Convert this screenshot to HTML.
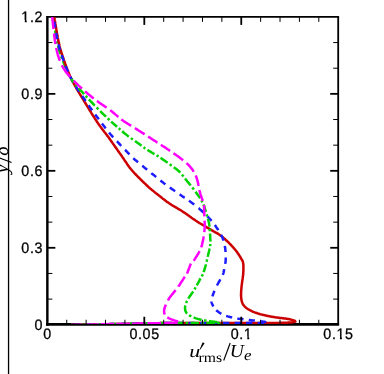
<!DOCTYPE html><html><head><meta charset="utf-8"><style>html,body{margin:0;padding:0;background:#fff}svg{display:block;will-change:transform}text{font-family:"Liberation Sans",sans-serif;text-rendering:geometricPrecision}</style></head><body>
<svg width="384" height="374" viewBox="0 0 384 374">
<rect width="384" height="374" fill="#fff"/>
<line x1="8.55" y1="0" x2="8.55" y2="374" stroke="#000" stroke-width="1.3"/>
<g transform="translate(8,173.2) rotate(-90)"><text x="0" y="0" font-size="20" style="font-family:'Liberation Serif',serif;font-style:italic">y</text><text x="17.5" y="0" font-size="20" style="font-family:'Liberation Serif',serif;font-style:italic">δ</text></g>
<line x1="-1" y1="157.75" x2="11.6" y2="162.45" stroke="#000" stroke-width="1.1"/>
<rect x="46.2" y="16.0" width="8.3" height="0.8" fill="#000"/>
<g stroke="#000" fill="none">
<line x1="47.35" y1="16.00" x2="47.35" y2="325.70" stroke-width="2.45"/>
<line x1="46.13" y1="324.40" x2="339.10" y2="324.40" stroke-width="2.6"/>
<line x1="47.35" y1="16.90" x2="339.10" y2="16.90" stroke-width="1.8"/>
<line x1="338.20" y1="16.90" x2="338.20" y2="325.00" stroke-width="1.8"/>
</g>
<defs><clipPath id="c"><rect x="47.35" y="16.90" width="290.85" height="307.10"/></clipPath><clipPath id="ctop"><rect x="0" y="0" width="384" height="79"/></clipPath><clipPath id="cbot"><rect x="0" y="79" width="384" height="300"/></clipPath></defs>
<g clip-path="url(#c)" fill="none" stroke-width="2.5" stroke-linejoin="round">
<g clip-path="url(#ctop)"><path d="M52.7 15.0 L52.6 14.6 L52.7 15.1 L53.0 17.2 L53.1 17.7 L53.2 18.2 L53.3 18.8 L53.4 19.4 L53.5 20.1 L53.6 20.8 L53.7 21.6 L53.8 22.3 L53.9 23.1 L54.1 24.0 L54.2 24.8 L54.3 25.7 L54.5 26.6 L54.6 27.5 L54.7 28.4 L54.9 29.3 L55.0 30.2 L55.2 31.2 L55.3 32.1 L55.5 33.0 L55.6 33.9 L55.8 34.8 L55.9 35.7 L56.1 36.6 L56.2 37.4 L56.4 38.2 L56.5 39.0 L56.7 39.8 L56.8 40.5 L57.0 41.2 L57.2 42.1 L57.3 43.0 L57.5 43.9 L57.7 44.7 L57.9 45.5 L58.1 46.3 L58.3 47.0 L58.5 47.8 L58.7 48.5 L58.9 49.2 L59.1 49.9 L59.3 50.6 L59.5 51.3 L59.7 52.0 L59.9 52.7 L60.2 53.5 L60.4 54.2 L60.7 55.0 L61.0 55.7 L61.2 56.5 L61.6 57.4 L61.9 58.2 L62.1 58.8 L62.4 59.5 L62.6 60.2 L62.9 60.9 L63.2 61.6 L63.5 62.4 L63.8 63.1 L64.1 63.8 L64.4 64.6 L64.7 65.4 L65.0 66.1 L65.3 66.9 L65.7 67.6 L66.0 68.4 L66.3 69.2 L66.7 69.9 L67.0 70.7 L67.4 71.5 L67.7 72.2 L68.1 73.0 L68.5 73.7 L68.8 74.5 L69.2 75.2 L69.6 75.9 L70.0 76.6 L70.4 77.3 L70.8 78.0 L71.2 78.6 L71.6 79.3 L72.1 80.0 L72.5 80.7 L73.0 81.4 L73.5 82.0 L74.0 82.7 L74.5 83.3 L75.0 84.0 L75.5 84.6 L76.1 85.2 L76.6 85.9 L77.1 86.5 L77.7 87.1 L78.2 87.7 L78.8 88.3 L79.3 88.9 L79.8 89.5 L80.4 90.1 L80.9 90.7 L81.5 91.2 L82.0 91.8 L82.5 92.4 L83.1 93.0 L83.6 93.5 L84.1 94.1 L84.6 94.6 L85.1 95.2 L85.7 95.9 L86.3 96.5 L86.8 97.1 L87.4 97.8 L87.9 98.4 L88.5 99.0 L89.1 99.6 L89.6 100.2 L90.2 100.8 L90.7 101.4 L91.3 101.9 L91.8 102.5 L92.4 103.1 L92.9 103.7 L93.5 104.2 L94.0 104.8 L94.5 105.4 L95.1 105.9 L95.6 106.5 L96.2 107.1 L96.7 107.6 L97.3 108.2 L97.8 108.7 L98.4 109.3 L99.0 109.9 L99.6 110.5 L100.2 111.1 L100.8 111.7 L101.4 112.3 L102.0 112.9 L102.6 113.5 L103.2 114.1 L103.8 114.6 L104.4 115.2 L105.0 115.8 L105.6 116.3 L106.2 116.9 L106.7 117.4 L107.3 118.0 L107.9 118.5 L108.4 119.0 L109.0 119.6 L109.5 120.1 L110.0 120.6 L110.6 121.1 L111.3 121.8 L112.0 122.4 L112.7 123.0 L113.4 123.6 L114.0 124.2 L114.7 124.7 L115.3 125.3 L115.9 125.8 L116.5 126.3 L117.1 126.9 L117.7 127.3 L118.3 127.8 L118.8 128.3 L119.3 128.7 L119.8 129.2 L120.4 129.7 L121.2 130.4 L121.9 131.0 L122.5 131.5 L123.1 132.0 L123.6 132.5 L124.2 133.0 L124.7 133.4 L125.3 133.9 L126.0 134.4 L126.6 134.9 L127.2 135.4 L127.8 135.9 L128.5 136.4 L129.2 136.9 L129.8 137.3 L130.5 137.8 L131.1 138.3 L131.8 138.8 L132.4 139.2 L133.1 139.7 L133.8 140.2 L134.4 140.6 L135.1 141.1 L135.7 141.5 L136.4 142.0 L137.1 142.5 L137.7 142.9 L138.4 143.4 L139.0 143.9 L139.7 144.3 L140.3 144.8 L140.9 145.3 L141.6 145.8 L142.2 146.3 L142.9 146.8 L143.5 147.2 L144.2 147.7 L144.9 148.2 L145.5 148.6 L146.2 149.1 L146.9 149.5 L147.5 149.9 L148.2 150.3 L148.9 150.8 L149.6 151.2 L150.3 151.6 L151.0 152.0 L151.7 152.5 L152.4 152.9 L153.0 153.3 L153.6 153.6 L154.1 153.9 L154.7 154.2 L155.2 154.5 L155.8 154.9 L156.5 155.2 L157.2 155.7 L157.9 156.1 L158.8 156.7 L159.8 157.3 L160.5 157.9 L161.1 158.2 L161.6 158.6 L162.2 159.0 L162.8 159.4 L163.5 159.9 L164.1 160.3 L164.8 160.8 L165.5 161.3 L166.2 161.8 L167.0 162.3 L167.7 162.8 L168.4 163.3 L169.2 163.8 L169.9 164.4 L170.7 164.9 L171.4 165.4 L172.1 165.9 L172.8 166.4 L173.5 167.0 L174.2 167.5 L174.8 168.0 L175.5 168.4 L176.1 168.9 L176.6 169.4 L177.2 169.8 L177.7 170.2 L178.4 170.8 L179.2 171.5 L179.9 172.2 L180.4 172.8 L181.0 173.3 L181.5 173.9 L181.9 174.4 L182.3 175.0 L182.7 175.5 L183.2 176.1 L183.6 176.7 L184.0 177.3 L184.5 177.9 L185.1 178.6 L185.6 179.3 L186.1 179.8 L186.6 180.4 L187.0 181.0 L187.5 181.6 L188.1 182.2 L188.6 182.9 L189.1 183.5 L189.6 184.2 L190.2 184.8 L190.7 185.5 L191.2 186.1 L191.7 186.8 L192.3 187.5 L192.8 188.1 L193.3 188.8 L193.8 189.4 L194.3 190.1 L194.7 190.7 L195.2 191.3 L195.7 192.0 L196.2 192.7 L196.7 193.4 L197.2 194.0 L197.7 194.7 L198.2 195.4 L198.6 196.0 L199.1 196.7 L199.5 197.3 L200.0 198.0 L200.4 198.6 L200.8 199.3 L201.2 200.0 L201.6 200.6 L202.0 201.3 L202.3 202.0 L202.7 202.7 L203.0 203.4 L203.4 204.2 L203.7 205.0 L204.0 205.7 L204.3 206.5 L204.5 207.3 L204.8 208.1 L205.0 208.9 L205.3 209.7 L205.5 210.5 L205.7 211.3 L206.0 212.1 L206.2 212.8 L206.4 213.6 L206.6 214.3 L206.8 215.0 L207.1 215.9 L207.3 216.7 L207.5 217.5 L207.8 218.2 L208.0 219.0 L208.2 219.8 L208.4 220.5 L208.6 221.2 L208.7 222.0 L208.9 222.8 L209.1 223.6 L209.2 224.4 L209.3 225.2 L209.4 226.0 L209.5 226.8 L209.6 227.6 L209.7 228.4 L209.8 229.3 L209.8 230.1 L209.9 231.0 L210.0 231.8 L210.0 232.6 L210.1 233.5 L210.1 234.3 L210.1 235.1 L210.2 235.8 L210.2 236.5 L210.2 237.4 L210.3 238.3 L210.3 239.1 L210.4 239.8 L210.4 240.6 L210.4 241.3 L210.4 242.0 L210.4 242.8 L210.3 243.6 L210.3 244.5 L210.2 245.3 L210.0 246.1 L209.9 246.8 L209.8 247.6 L209.6 248.4 L209.4 249.2 L209.3 250.0 L209.1 250.8 L208.9 251.7 L208.7 252.5 L208.5 253.4 L208.3 254.2 L208.1 255.0 L207.9 255.8 L207.7 256.5 L207.6 257.3 L207.4 258.2 L207.2 259.0 L207.0 259.8 L206.8 260.7 L206.6 261.5 L206.4 262.3 L206.2 263.1 L206.0 263.8 L205.9 264.6 L205.7 265.3 L205.5 266.0 L205.3 266.7 L205.0 267.6 L204.8 268.5 L204.5 269.3 L204.3 270.2 L204.0 271.0 L203.7 271.7 L203.5 272.4 L203.3 273.1 L203.0 273.7 L202.7 274.5 L202.4 275.1 L202.2 275.5 L201.8 276.1 L201.2 277.1 L200.8 277.9 L200.5 278.4 L200.2 279.0 L199.8 279.6 L199.5 280.3 L199.1 281.1 L198.7 281.8 L198.3 282.6 L197.8 283.4 L197.4 284.2 L197.0 285.0 L196.5 285.8 L196.1 286.6 L195.7 287.3 L195.3 288.0 L194.9 288.7 L194.5 289.4 L194.1 290.1 L193.6 290.9 L193.1 291.6 L192.6 292.4 L192.1 293.1 L191.6 293.8 L191.1 294.4 L190.7 295.1 L190.2 295.7 L189.8 296.3 L189.4 296.9 L189.0 297.5 L188.6 298.1 L188.1 298.9 L187.7 299.7 L187.3 300.5 L186.9 301.3 L186.5 302.0 L186.2 302.7 L185.9 303.4 L185.6 304.1 L185.4 304.8 L185.3 305.6 L185.1 306.5 L185.1 307.3 L185.0 308.2 L185.1 309.0 L185.2 309.7 L185.3 310.5 L185.6 311.2 L185.9 311.9 L186.3 312.6 L186.7 313.2 L187.3 313.8 L187.9 314.4 L188.8 314.9 L189.4 315.4 L190.0 315.7 L190.7 316.0 L191.4 316.4 L192.1 316.7 L192.9 317.1 L193.7 317.4 L194.5 317.8 L195.3 318.1 L196.2 318.4 L197.0 318.6 L197.8 318.9 L198.6 319.1 L199.3 319.3 L200.1 319.5 L200.9 319.7 L201.7 319.9 L202.5 320.0 L203.3 320.2 L204.1 320.3 L205.0 320.4 L205.8 320.6 L206.6 320.7 L207.4 320.8 L208.2 321.0 L209.1 321.1 L210.0 321.2 L210.9 321.4 L211.8 321.5 L212.8 321.6 L213.7 321.7 L214.6 321.8 L215.4 321.9 L216.2 322.0 L216.9 322.1 L217.4 322.1 L217.9 322.2 L218.7 322.4 L219.6 322.7 L219.6 322.8 L218.8 322.8 L218.0 322.9 L217.2 322.9 L216.4 322.9 L215.6 322.9 L214.8 323.0 L214.0 323.0 L213.2 323.0 L212.4 323.0 L211.6 323.0 L210.8 323.0 L210.0 323.0 L209.2 323.0 L208.4 323.0 L207.6 323.0 L206.8 323.0 L206.0 323.0 L205.2 323.0 L204.4 323.0 L203.6 323.0 L202.8 323.0 L202.0 323.0 L201.2 323.0 L200.4 323.0 L199.6 323.0 L198.8 323.0 L198.0 323.0 L197.2 323.0 L196.4 323.0 L195.6 323.0 L194.8 323.0 L194.0 323.0 L193.2 323.0 L192.4 323.0 L191.6 323.0 L190.8 323.0 L190.0 323.0 L189.2 323.0 L188.4 323.0 L187.6 323.0 L186.8 323.0 L186.0 323.0 L185.2 323.0 L184.4 323.0 L183.6 323.0 L182.8 323.0 L182.0 323.0 L181.2 323.0 L180.4 323.0 L179.6 323.0 L178.8 323.0 L178.0 323.0 L177.2 323.0 L176.4 323.0 L175.6 323.0 L174.8 323.0 L174.0 323.0 L173.2 323.0 L172.4 323.0 L171.6 323.1 L170.8 323.1 L170.0 323.1 L169.2 323.1 L168.4 323.1 L167.6 323.1 L166.8 323.1 L166.0 323.1 L165.2 323.1 L164.4 323.1 L163.6 323.1 L162.8 323.1 L162.0 323.1 L161.2 323.1 L160.4 323.1 L159.6 323.2 L158.8 323.2 L158.0 323.2 L157.2 323.2 L156.4 323.2 L155.6 323.2 L154.8 323.2 L154.0 323.2 L153.2 323.2 L152.4 323.2 L151.6 323.2 L150.8 323.2 L150.0 323.2 L149.2 323.2 L148.4 323.2 L147.6 323.3 L146.8 323.3 L146.0 323.3 L145.2 323.3 L144.4 323.3 L143.6 323.4 L142.8 323.4 L142.0 323.4 L141.2 323.4 L140.4 323.4 L139.6 323.4 L138.8 323.5 L138.0 323.5 L137.2 323.5 L136.4 323.5 L135.6 323.5 L134.8 323.6 L134.0 323.6 L133.2 323.6 L132.4 323.6 L131.6 323.6 L130.8 323.7 L130.0 323.7 L129.2 323.7 L128.4 323.7 L127.6 323.7 L126.8 323.7 L126.0 323.8 L125.2 323.8 L124.4 323.8 L123.6 323.8 L122.8 323.8 L122.0 323.9 L121.2 323.9 L120.4 323.9 L119.6 323.9 L118.8 323.9 L118.0 324.0 L117.2 324.0 L116.4 324.0 L115.6 324.0 L114.8 324.0 L114.0 324.0 L113.2 324.1 L112.4 324.1 L111.6 324.1 L110.8 324.1 L110.0 324.1 L109.2 324.2 L108.4 324.2 L107.6 324.2 L106.8 324.2 L106.0 324.2 L105.2 324.3 L104.4 324.3 L103.6 324.3 L102.8 324.3 L102.0 324.3 L101.2 324.3 L100.4 324.4 L99.6 324.4 L98.8 324.4 L98.0 324.4 L97.2 324.4 L96.4 324.5 L95.6 324.5 L94.8 324.5 L94.0 324.5 L93.2 324.5 L92.4 324.5 L91.6 324.6 L90.8 324.6 L90.0 324.6 L89.2 324.6 L88.4 324.6 L87.6 324.7 L86.8 324.7 L86.0 324.7 L85.2 324.7 L84.4 324.7 L83.6 324.8 L82.8 324.8 L82.0 324.8 L81.2 324.8 L80.4 324.8 L79.6 324.8 L78.8 324.9 L78.0 324.9 L77.2 324.9 L76.4 324.9 L75.6 324.9 L74.8 325.0 L74.0 325.0 L73.2 325.0 L72.4 325.0 L71.6 325.0 L71.0 325.1" stroke="#00d200" stroke-dasharray="0.00 0.76 8.40 2.50 2.40 2.50 8.40 2.50 2.40 2.50 8.40 2.50 2.40 2.50 8.40 2.50 2.40 2.50 8.40 2.50 2.40 2.50 8.09 2.41 2.31 2.41 8.67 2.58 2.48 2.58 8.12 2.42 2.32 2.42 7.74 2.30 2.21 2.30 8.59 2.56 2.46 2.56 8.16 2.43 2.33 2.43 8.16 2.43 2.33 2.43 8.61 2.56 2.46 2.56 8.56 2.55 2.45 2.55 8.96 2.67 2.56 2.67 8.01 2.38 2.29 2.38 8.01 2.38 2.29 2.38 8.01 2.38 2.29 2.38 7.96 2.37 2.27 2.37 8.63 2.57 2.46 2.57 8.10 2.41 2.31 2.41 7.94 2.36 2.27 2.36 8.65 2.58 2.47 2.58 8.65 2.58 2.47 2.58 8.40 2.50 2.40 2.50 8.40 2.50 2.40 2.50 8.40 2.50 2.40 2.50 8.40 2.50 2.40 2.50 8.40 2.50 2.40 2.50 8.40 2.50 2.40 2.50 8.40 2.50 2.40 2.50 8.40 2.50 2.40 2.50 8.40 2.50 2.40 2.50 8.40 2.50 2.40 2.50 8.40 2.50 2.40 2.50 6.04 50.00"/></g>
<path d="M54.0 15.0 L53.9 14.6 L54.0 15.1 L54.3 17.2 L54.4 17.7 L54.5 18.2 L54.6 18.8 L54.7 19.5 L54.8 20.1 L54.9 20.8 L55.1 21.6 L55.2 22.4 L55.3 23.2 L55.4 24.0 L55.6 24.9 L55.7 25.8 L55.9 26.7 L56.0 27.6 L56.2 28.5 L56.3 29.4 L56.5 30.3 L56.6 31.3 L56.8 32.2 L56.9 33.1 L57.1 34.0 L57.3 34.9 L57.4 35.8 L57.6 36.7 L57.7 37.5 L57.9 38.3 L58.0 39.1 L58.2 39.8 L58.3 40.6 L58.5 41.2 L58.7 42.1 L58.9 43.1 L59.1 44.0 L59.2 44.8 L59.4 45.6 L59.6 46.3 L59.8 47.1 L60.0 47.8 L60.2 48.5 L60.4 49.2 L60.6 49.8 L60.8 50.5 L61.0 51.2 L61.2 51.9 L61.4 52.7 L61.7 53.4 L61.9 54.2 L62.2 55.0 L62.5 55.9 L62.8 56.8 L63.0 57.4 L63.2 58.1 L63.5 58.8 L63.7 59.5 L63.9 60.1 L64.2 60.9 L64.4 61.6 L64.7 62.3 L64.9 63.0 L65.2 63.8 L65.5 64.5 L65.7 65.3 L66.0 66.0 L66.3 66.8 L66.6 67.6 L66.9 68.3 L67.2 69.1 L67.5 69.9 L67.8 70.7 L68.1 71.5 L68.4 72.3 L68.7 73.1 L69.1 73.9 L69.4 74.6 L69.7 75.4 L70.1 76.2 L70.5 77.0 L70.8 77.8 L71.2 78.6 L71.5 79.3 L71.9 80.0 L72.2 80.7 L72.6 81.4 L73.0 82.0 L73.3 82.7 L73.7 83.4 L74.1 84.2 L74.5 84.9 L74.9 85.6 L75.3 86.3 L75.7 87.0 L76.1 87.7 L76.5 88.4 L76.9 89.2 L77.4 89.9 L77.8 90.6 L78.2 91.3 L78.6 92.0 L79.1 92.8 L79.5 93.5 L79.9 94.2 L80.4 94.9 L80.8 95.6 L81.2 96.3 L81.6 97.0 L82.1 97.7 L82.5 98.4 L82.9 99.1 L83.3 99.7 L83.7 100.4 L84.1 101.1 L84.5 101.7 L84.9 102.4 L85.3 103.1 L85.8 103.8 L86.2 104.6 L86.7 105.3 L87.1 106.0 L87.6 106.8 L88.0 107.5 L88.5 108.2 L88.9 109.0 L89.3 109.7 L89.8 110.4 L90.2 111.1 L90.7 111.8 L91.1 112.5 L91.5 113.2 L92.0 113.9 L92.4 114.6 L92.8 115.3 L93.2 116.0 L93.7 116.6 L94.1 117.3 L94.5 117.9 L94.9 118.6 L95.3 119.2 L95.7 119.8 L96.1 120.4 L96.5 121.0 L96.9 121.6 L97.3 122.2 L97.7 122.8 L98.2 123.6 L98.8 124.4 L99.4 125.2 L99.9 126.0 L100.5 126.7 L101.0 127.5 L101.6 128.2 L102.1 128.9 L102.6 129.6 L103.2 130.3 L103.7 131.0 L104.2 131.6 L104.6 132.2 L105.1 132.8 L105.6 133.4 L106.0 134.0 L106.4 134.5 L106.8 135.0 L107.1 135.5 L107.5 135.9 L108.0 136.6 L108.6 137.4 L108.7 137.5 L108.8 137.7 L109.4 138.5 L110.1 139.6 L110.4 140.0 L110.8 140.5 L111.1 141.0 L111.5 141.6 L111.9 142.1 L112.4 142.8 L112.8 143.4 L113.3 144.1 L113.8 144.7 L114.3 145.5 L114.8 146.2 L115.3 146.9 L115.8 147.6 L116.3 148.4 L116.9 149.1 L117.4 149.9 L117.9 150.7 L118.4 151.4 L119.0 152.1 L119.5 152.9 L120.0 153.6 L120.5 154.3 L121.0 155.0 L121.4 155.6 L121.9 156.3 L122.3 156.9 L122.7 157.5 L123.3 158.3 L123.8 159.0 L124.2 159.7 L124.7 160.4 L125.1 161.0 L125.6 161.7 L126.0 162.3 L126.4 162.9 L126.8 163.5 L127.2 164.2 L127.6 164.8 L128.0 165.4 L128.5 166.0 L128.9 166.6 L129.4 167.2 L129.9 167.9 L130.4 168.5 L131.0 169.2 L131.6 169.9 L132.1 170.6 L132.6 171.1 L133.1 171.6 L133.6 172.2 L134.1 172.8 L134.6 173.3 L135.2 173.9 L135.7 174.5 L136.3 175.1 L136.9 175.7 L137.5 176.3 L138.1 176.9 L138.7 177.5 L139.3 178.1 L139.9 178.7 L140.5 179.3 L141.1 179.9 L141.7 180.5 L142.3 181.1 L142.9 181.7 L143.5 182.3 L144.1 182.8 L144.7 183.4 L145.3 183.9 L145.8 184.5 L146.4 185.0 L146.9 185.5 L147.4 186.0 L148.0 186.5 L148.7 187.2 L149.4 187.8 L150.1 188.4 L150.8 188.9 L151.4 189.5 L152.1 190.1 L152.7 190.6 L153.4 191.1 L154.0 191.6 L154.6 192.1 L155.2 192.6 L155.8 193.1 L156.4 193.6 L157.0 194.0 L157.6 194.5 L158.2 194.9 L158.8 195.4 L159.3 195.8 L159.9 196.3 L160.5 196.7 L161.2 197.3 L161.9 197.9 L162.5 198.4 L163.2 198.9 L163.8 199.4 L164.4 199.8 L165.0 200.3 L165.6 200.8 L166.2 201.2 L166.8 201.7 L167.4 202.1 L168.1 202.6 L168.8 203.1 L169.5 203.5 L170.2 204.0 L170.8 204.4 L171.4 204.8 L172.1 205.2 L172.7 205.6 L173.4 206.0 L174.1 206.4 L174.8 206.8 L175.5 207.2 L176.2 207.6 L176.9 208.0 L177.6 208.4 L178.3 208.9 L179.0 209.3 L179.7 209.7 L180.5 210.1 L181.2 210.6 L181.9 211.0 L182.6 211.5 L183.2 211.9 L183.9 212.4 L184.6 212.8 L185.3 213.3 L186.0 213.8 L186.7 214.3 L187.4 214.8 L188.1 215.3 L188.8 215.8 L189.5 216.3 L190.2 216.7 L190.9 217.2 L191.5 217.7 L192.2 218.2 L192.9 218.7 L193.5 219.1 L194.1 219.5 L194.7 219.9 L195.3 220.3 L195.9 220.7 L196.7 221.2 L197.5 221.8 L198.2 222.2 L199.0 222.7 L199.6 223.1 L200.3 223.5 L200.9 223.8 L201.6 224.2 L202.2 224.6 L202.8 224.9 L203.5 225.3 L204.1 225.7 L204.8 226.1 L205.5 226.5 L206.2 226.9 L206.9 227.4 L207.6 227.8 L208.3 228.2 L209.0 228.6 L209.7 229.0 L210.4 229.4 L211.1 229.9 L211.8 230.3 L212.5 230.7 L213.2 231.1 L213.9 231.5 L214.6 231.9 L215.3 232.3 L216.0 232.7 L216.7 233.0 L217.4 233.4 L218.1 233.8 L218.8 234.3 L219.4 234.7 L220.1 235.2 L220.8 235.7 L221.5 236.1 L222.1 236.6 L222.7 237.1 L223.3 237.7 L223.9 238.2 L224.6 238.8 L225.2 239.3 L225.8 239.9 L226.4 240.5 L227.0 241.0 L227.6 241.6 L228.2 242.2 L228.7 242.7 L229.3 243.3 L229.9 243.9 L230.5 244.5 L231.1 245.1 L231.6 245.7 L232.2 246.3 L232.7 246.9 L233.3 247.5 L233.8 248.1 L234.3 248.7 L234.8 249.3 L235.3 249.9 L235.8 250.5 L236.3 251.1 L236.8 251.8 L237.3 252.5 L237.8 253.2 L238.3 253.9 L238.7 254.6 L239.2 255.3 L239.6 256.0 L240.0 256.6 L240.4 257.3 L240.8 257.9 L241.1 258.5 L241.6 259.3 L242.0 260.0 L242.4 260.5 L242.7 261.2 L242.9 261.9 L243.1 262.8 L243.2 263.6 L243.3 264.3 L243.4 265.0 L243.4 265.7 L243.4 266.5 L243.4 267.3 L243.4 268.1 L243.4 269.0 L243.4 269.9 L243.4 270.8 L243.3 271.7 L243.3 272.6 L243.2 273.5 L243.2 274.3 L243.1 275.0 L243.0 275.8 L242.9 276.6 L242.8 277.4 L242.7 278.2 L242.6 279.0 L242.4 279.9 L242.3 280.7 L242.2 281.5 L242.1 282.3 L242.0 283.1 L241.9 283.9 L241.8 284.7 L241.7 285.5 L241.6 286.2 L241.5 287.1 L241.4 288.0 L241.4 288.8 L241.3 289.7 L241.2 290.5 L241.2 291.4 L241.1 292.2 L241.1 293.0 L241.1 293.7 L241.0 294.5 L241.1 295.2 L241.1 295.9 L241.1 296.8 L241.2 297.7 L241.3 298.5 L241.4 299.4 L241.5 300.2 L241.7 300.9 L241.9 301.7 L242.1 302.4 L242.4 303.1 L242.7 303.8 L243.1 304.5 L243.5 305.1 L244.0 305.7 L244.5 306.3 L245.0 306.9 L245.6 307.4 L246.3 308.0 L247.1 308.5 L247.8 309.0 L248.4 309.3 L249.0 309.7 L249.6 310.0 L250.3 310.4 L251.0 310.7 L251.7 311.1 L252.4 311.4 L253.2 311.8 L254.0 312.1 L254.8 312.4 L255.7 312.7 L256.6 313.0 L257.5 313.3 L258.2 313.6 L258.9 313.8 L259.6 314.0 L260.3 314.2 L261.1 314.4 L261.8 314.6 L262.6 314.8 L263.4 315.0 L264.2 315.1 L265.0 315.3 L265.9 315.5 L266.7 315.7 L267.5 315.9 L268.3 316.0 L269.2 316.2 L270.0 316.4 L270.8 316.5 L271.6 316.7 L272.4 316.8 L273.2 317.0 L274.0 317.1 L274.8 317.2 L275.7 317.4 L276.6 317.5 L277.4 317.6 L278.3 317.7 L279.2 317.8 L280.0 317.9 L280.9 318.0 L281.7 318.1 L282.5 318.2 L283.3 318.3 L284.1 318.4 L284.9 318.5 L285.6 318.6 L286.3 318.7 L287.0 318.8 L287.6 318.9 L288.5 319.0 L289.6 319.2 L290.6 319.5 L291.5 319.7 L292.3 320.0 L293.0 320.2 L293.6 320.4 L294.2 320.5 L294.6 320.7 L295.1 321.1 L295.4 321.6 L294.6 321.8 L293.8 321.9 L293.0 322.1 L292.2 322.2 L291.4 322.4 L290.6 322.5 L289.8 322.6 L289.0 322.6 L288.2 322.6 L287.4 322.7 L286.6 322.7 L285.8 322.7 L285.0 322.7 L284.2 322.7 L283.4 322.8 L282.6 322.8 L281.8 322.8 L281.0 322.8 L280.2 322.8 L279.4 322.8 L278.6 322.9 L277.8 322.9 L277.0 322.9 L276.2 322.9 L275.4 322.9 L274.6 323.0 L273.8 323.0 L273.0 323.0 L272.2 323.0 L271.4 323.0 L270.6 323.0 L269.8 323.0 L269.0 323.0 L268.2 323.0 L267.4 323.0 L266.6 323.0 L265.8 323.0 L265.0 323.0 L264.2 323.0 L263.4 323.0 L262.6 323.0 L261.8 323.0 L261.0 323.0 L260.2 323.0 L259.4 323.0 L258.6 323.0 L257.8 323.0 L257.0 323.0 L256.2 323.0 L255.4 323.0 L254.6 323.0 L253.8 323.0 L253.0 323.0 L252.2 323.0 L251.4 323.0 L250.6 323.0 L249.8 323.0 L249.0 323.0 L248.2 323.0 L247.4 323.0 L246.6 323.0 L245.8 323.0 L245.0 323.0 L244.2 323.0 L243.4 323.0 L242.6 323.0 L241.8 323.0 L241.0 323.0 L240.2 323.0 L239.4 323.0 L238.6 323.0 L237.8 323.0 L237.0 323.0 L236.2 323.0 L235.4 323.0 L234.6 323.0 L233.8 323.0 L233.0 323.0 L232.2 323.0 L231.4 323.0 L230.6 323.0 L229.8 323.0 L229.0 323.0 L228.2 323.0 L227.4 323.0 L226.6 323.0 L225.8 323.0 L225.0 323.0 L224.2 323.0 L223.4 323.0 L222.6 323.0 L221.8 323.0 L221.0 323.0 L220.2 323.0 L219.4 323.0 L218.6 323.0 L217.8 323.0 L217.0 323.0 L216.2 323.0 L215.4 323.0 L214.6 323.0 L213.8 323.0 L213.0 323.0 L212.2 323.0 L211.4 323.0 L210.6 323.0 L209.8 323.0 L209.0 323.0 L208.2 323.0 L207.4 323.0 L206.6 323.0 L205.8 323.0 L205.0 323.0 L204.2 323.0 L203.4 323.0 L202.6 323.0 L201.8 323.0 L201.0 323.0 L200.2 323.0 L199.4 323.0 L198.6 323.0 L197.8 323.0 L197.0 323.0 L196.2 323.0 L195.4 323.0 L194.6 323.0 L193.8 323.0 L193.0 323.0 L192.2 323.0 L191.4 323.0 L190.6 323.0 L189.8 323.0 L189.0 323.0 L188.2 323.0 L187.4 323.0 L186.6 323.0 L185.8 323.0 L185.0 323.0 L184.2 323.0 L183.4 323.0 L182.6 323.0 L181.8 323.0 L181.0 323.0 L180.2 323.0 L179.4 323.0 L178.6 323.0 L177.8 323.0 L177.0 323.0 L176.2 323.0 L175.4 323.0 L174.6 323.0 L173.8 323.0 L173.0 323.0 L172.2 323.0 L171.4 323.1 L170.6 323.1 L169.8 323.1 L169.0 323.1 L168.2 323.1 L167.4 323.1 L166.6 323.1 L165.8 323.1 L165.0 323.1 L164.2 323.1 L163.4 323.1 L162.6 323.1 L161.8 323.1 L161.0 323.1 L160.2 323.1 L159.4 323.2 L158.6 323.2 L157.8 323.2 L157.0 323.2 L156.2 323.2 L155.4 323.2 L154.6 323.2 L153.8 323.2 L153.0 323.2 L152.2 323.2 L151.4 323.2 L150.6 323.2 L149.8 323.2 L149.0 323.2 L148.2 323.2 L147.4 323.3 L146.6 323.3 L145.8 323.3 L145.0 323.3 L144.2 323.3 L143.4 323.4 L142.6 323.4 L141.8 323.4 L141.0 323.4 L140.2 323.4 L139.4 323.5 L138.6 323.5 L137.8 323.5 L137.0 323.5 L136.2 323.5 L135.4 323.5 L134.6 323.6 L133.8 323.6 L133.0 323.6 L132.2 323.6 L131.4 323.6 L130.6 323.7 L129.8 323.7 L129.0 323.7 L128.2 323.7 L127.4 323.7 L126.6 323.8 L125.8 323.8 L125.0 323.8 L124.2 323.8 L123.4 323.8 L122.6 323.8 L121.8 323.9 L121.0 323.9 L120.2 323.9 L119.4 323.9 L118.6 323.9 L117.8 324.0 L117.0 324.0 L116.2 324.0 L115.4 324.0 L114.6 324.0 L113.8 324.0 L113.0 324.1 L112.2 324.1 L111.4 324.1 L110.6 324.1 L109.8 324.1 L109.0 324.2 L108.2 324.2 L107.4 324.2 L106.6 324.2 L105.8 324.2 L105.0 324.3 L104.2 324.3 L103.4 324.3 L102.6 324.3 L101.8 324.3 L101.0 324.3 L100.2 324.4 L99.4 324.4 L98.6 324.4 L97.8 324.4 L97.0 324.4 L96.2 324.5 L95.4 324.5 L94.6 324.5 L93.8 324.5 L93.0 324.5 L92.2 324.6 L91.4 324.6 L90.6 324.6 L89.8 324.6 L89.0 324.6 L88.2 324.6 L87.4 324.7 L86.6 324.7 L85.8 324.7 L85.0 324.7 L84.2 324.7 L83.4 324.8 L82.6 324.8 L81.8 324.8 L81.0 324.8 L80.2 324.8 L79.4 324.9 L78.6 324.9 L77.8 324.9 L77.0 324.9 L76.2 324.9 L75.4 324.9 L74.6 325.0 L73.8 325.0 L73.0 325.0 L72.2 325.0 L71.4 325.0 L71.0 325.1" stroke="#cc0000"/>
<path d="M53.2 15.0 L53.1 14.6 L53.2 15.1 L53.5 17.2 L53.6 17.7 L53.7 18.2 L53.8 18.8 L53.9 19.5 L54.0 20.1 L54.1 20.8 L54.3 21.6 L54.4 22.4 L54.5 23.2 L54.7 24.0 L54.8 24.9 L55.0 25.8 L55.1 26.7 L55.3 27.6 L55.4 28.5 L55.6 29.4 L55.7 30.3 L55.9 31.3 L56.0 32.2 L56.2 33.1 L56.4 34.0 L56.5 34.9 L56.7 35.8 L56.8 36.7 L57.0 37.5 L57.2 38.3 L57.3 39.1 L57.5 39.8 L57.6 40.6 L57.8 41.2 L58.0 42.1 L58.2 43.1 L58.4 43.9 L58.6 44.8 L58.8 45.5 L58.9 46.3 L59.1 47.0 L59.3 47.7 L59.5 48.4 L59.7 49.1 L59.9 49.8 L60.1 50.4 L60.3 51.1 L60.6 51.8 L60.8 52.5 L61.0 53.3 L61.3 54.0 L61.6 54.8 L61.9 55.7 L62.2 56.6 L62.5 57.3 L62.7 57.9 L62.9 58.6 L63.2 59.3 L63.4 60.0 L63.7 60.7 L64.0 61.4 L64.2 62.1 L64.5 62.9 L64.8 63.6 L65.0 64.4 L65.3 65.1 L65.6 65.9 L65.9 66.7 L66.2 67.4 L66.5 68.2 L66.8 69.0 L67.2 69.8 L67.5 70.5 L67.8 71.3 L68.1 72.1 L68.5 72.9 L68.8 73.7 L69.2 74.4 L69.5 75.2 L69.9 76.0 L70.3 76.7 L70.6 77.5 L71.0 78.2 L71.4 79.0 L71.8 79.7 L72.1 80.3 L72.5 81.0 L72.9 81.7 L73.3 82.4 L73.7 83.1 L74.1 83.8 L74.6 84.5 L75.0 85.2 L75.4 85.9 L75.9 86.6 L76.3 87.3 L76.8 88.0 L77.2 88.7 L77.7 89.3 L78.1 90.0 L78.6 90.7 L79.1 91.4 L79.5 92.1 L80.0 92.8 L80.4 93.4 L80.9 94.1 L81.4 94.8 L81.8 95.4 L82.3 96.1 L82.7 96.7 L83.2 97.4 L83.6 98.0 L84.0 98.6 L84.5 99.3 L84.9 99.9 L85.3 100.6 L85.8 101.3 L86.3 102.0 L86.8 102.7 L87.3 103.4 L87.7 104.1 L88.2 104.7 L88.7 105.4 L89.2 106.1 L89.6 106.7 L90.1 107.4 L90.6 108.1 L91.0 108.7 L91.5 109.3 L92.0 110.0 L92.4 110.6 L92.9 111.3 L93.3 111.9 L93.8 112.5 L94.3 113.1 L94.7 113.8 L95.2 114.4 L95.6 115.0 L96.1 115.6 L96.5 116.3 L97.0 116.9 L97.5 117.5 L97.9 118.1 L98.5 118.8 L99.0 119.5 L99.5 120.2 L100.0 120.8 L100.5 121.5 L101.0 122.2 L101.5 122.8 L102.0 123.5 L102.5 124.2 L103.0 124.8 L103.5 125.5 L104.0 126.1 L104.5 126.8 L105.0 127.4 L105.5 128.1 L106.0 128.7 L106.5 129.3 L107.0 129.9 L107.5 130.5 L108.0 131.1 L108.4 131.7 L108.9 132.2 L109.3 132.8 L109.8 133.3 L110.3 134.0 L110.9 134.7 L111.5 135.4 L112.1 136.1 L112.7 136.7 L113.2 137.3 L113.8 137.9 L114.3 138.5 L114.9 139.1 L115.4 139.7 L115.9 140.2 L116.4 140.8 L117.0 141.3 L117.5 141.9 L118.0 142.4 L118.5 142.9 L119.0 143.5 L119.5 144.0 L120.1 144.6 L120.7 145.3 L121.3 145.9 L121.8 146.5 L122.4 147.1 L123.0 147.7 L123.5 148.2 L124.1 148.8 L124.6 149.4 L125.2 149.9 L125.7 150.5 L126.2 151.0 L126.8 151.6 L127.3 152.1 L127.8 152.7 L128.4 153.2 L128.8 153.7 L129.2 154.1 L129.6 154.5 L129.9 154.9 L130.3 155.3 L130.7 155.8 L131.2 156.3 L131.8 156.9 L132.5 157.6 L133.4 158.3 L134.5 159.3 L135.3 160.0 L135.7 160.3 L136.2 160.7 L136.7 161.1 L137.2 161.6 L137.7 162.0 L138.3 162.5 L138.9 163.0 L139.5 163.5 L140.1 164.0 L140.8 164.5 L141.4 165.0 L142.1 165.6 L142.8 166.1 L143.4 166.7 L144.1 167.3 L144.9 167.9 L145.6 168.4 L146.3 169.0 L147.0 169.6 L147.7 170.2 L148.5 170.8 L149.2 171.4 L149.9 172.0 L150.6 172.5 L151.3 173.1 L152.0 173.7 L152.7 174.2 L153.4 174.8 L154.1 175.3 L154.8 175.9 L155.4 176.4 L156.0 176.9 L156.6 177.4 L157.2 177.8 L157.8 178.3 L158.4 178.7 L158.9 179.2 L159.4 179.6 L159.9 179.9 L160.3 180.3 L161.4 181.2 L162.3 181.9 L163.2 182.6 L163.9 183.2 L164.6 183.7 L165.2 184.1 L165.7 184.5 L166.2 184.9 L166.7 185.2 L167.1 185.5 L167.6 185.9 L168.1 186.3 L168.7 186.7 L169.3 187.1 L170.0 187.6 L170.6 188.0 L171.2 188.5 L171.8 188.9 L172.5 189.4 L173.1 189.8 L173.8 190.3 L174.4 190.7 L175.1 191.2 L175.8 191.7 L176.5 192.1 L177.2 192.6 L177.8 193.1 L178.5 193.6 L179.2 194.0 L179.9 194.5 L180.6 195.0 L181.3 195.5 L181.9 195.9 L182.6 196.4 L183.3 196.9 L183.9 197.3 L184.6 197.8 L185.2 198.2 L185.9 198.6 L186.6 199.1 L187.2 199.5 L187.9 200.0 L188.5 200.4 L189.2 200.9 L189.8 201.3 L190.5 201.8 L191.1 202.2 L191.8 202.7 L192.5 203.2 L193.1 203.7 L193.8 204.2 L194.4 204.7 L195.1 205.2 L195.7 205.7 L196.3 206.2 L196.9 206.7 L197.5 207.2 L198.1 207.8 L198.8 208.3 L199.4 208.8 L200.0 209.4 L200.7 210.0 L201.3 210.5 L201.9 211.1 L202.5 211.7 L203.1 212.2 L203.7 212.8 L204.3 213.3 L204.9 213.9 L205.5 214.5 L206.0 215.0 L206.5 215.5 L207.1 216.1 L207.6 216.6 L208.2 217.2 L208.8 217.9 L209.4 218.5 L210.0 219.1 L210.5 219.7 L211.1 220.3 L211.6 220.9 L212.1 221.5 L212.6 222.1 L213.1 222.7 L213.6 223.4 L214.0 224.0 L214.5 224.6 L215.0 225.2 L215.4 225.9 L215.9 226.5 L216.3 227.2 L216.8 227.9 L217.3 228.6 L217.7 229.3 L218.2 230.0 L218.6 230.7 L219.1 231.4 L219.5 232.1 L219.9 232.9 L220.3 233.6 L220.7 234.3 L221.1 235.0 L221.5 235.7 L221.8 236.4 L222.2 237.1 L222.5 237.8 L222.8 238.5 L223.1 239.3 L223.4 240.1 L223.7 240.9 L223.9 241.7 L224.1 242.4 L224.3 243.2 L224.5 244.0 L224.6 244.7 L224.8 245.5 L224.9 246.3 L225.0 247.1 L225.1 247.9 L225.3 248.7 L225.3 249.5 L225.4 250.3 L225.5 251.1 L225.6 251.9 L225.6 252.8 L225.7 253.6 L225.7 254.5 L225.7 255.3 L225.7 256.2 L225.8 257.0 L225.8 257.8 L225.7 258.5 L225.7 259.3 L225.7 260.0 L225.6 260.9 L225.6 261.8 L225.4 262.7 L225.3 263.5 L225.2 264.3 L225.0 265.0 L224.9 265.8 L224.7 266.5 L224.5 267.2 L224.4 267.9 L224.2 268.7 L224.1 269.5 L224.0 270.3 L223.9 270.9 L223.8 271.6 L223.6 272.4 L223.4 273.1 L223.1 274.0 L222.7 275.0 L222.4 275.6 L222.1 276.2 L221.8 276.9 L221.4 277.6 L221.0 278.3 L220.6 279.0 L220.2 279.7 L219.8 280.5 L219.3 281.2 L218.9 282.0 L218.4 282.8 L218.0 283.5 L217.6 284.3 L217.2 285.0 L216.9 285.7 L216.5 286.4 L216.1 287.2 L215.8 288.0 L215.4 288.8 L215.0 289.6 L214.7 290.4 L214.3 291.2 L214.0 292.0 L213.7 292.8 L213.4 293.5 L213.1 294.2 L212.9 294.9 L212.7 295.6 L212.4 296.2 L212.1 297.2 L211.9 298.1 L211.7 299.0 L211.6 299.7 L211.5 300.4 L211.5 301.0 L211.5 301.8 L211.6 302.5 L211.8 303.3 L212.2 304.1 L212.5 304.7 L212.7 305.3 L213.1 306.1 L213.4 306.8 L213.9 307.6 L214.5 308.3 L215.1 309.0 L215.6 309.5 L216.1 310.0 L216.6 310.5 L217.2 311.0 L217.9 311.5 L218.5 312.0 L219.2 312.5 L219.9 313.0 L220.6 313.4 L221.4 313.9 L222.1 314.3 L222.9 314.7 L223.6 315.0 L224.3 315.3 L225.1 315.6 L225.9 315.9 L226.8 316.1 L227.6 316.4 L228.5 316.6 L229.3 316.8 L230.1 317.0 L231.0 317.2 L231.8 317.4 L232.5 317.6 L233.2 317.8 L233.9 317.9 L234.7 318.1 L235.6 318.3 L236.3 318.4 L236.8 318.5 L237.4 318.6 L238.1 318.7 L239.0 318.8 L240.2 318.9 L240.8 319.0 L241.4 319.1 L242.1 319.1 L242.9 319.2 L243.7 319.3 L244.5 319.4 L245.4 319.5 L246.2 319.6 L247.1 319.7 L248.0 319.8 L248.9 320.0 L249.8 320.1 L250.7 320.2 L251.5 320.3 L252.4 320.4 L253.2 320.5 L254.0 320.6 L254.7 320.6 L255.5 320.7 L256.5 320.8 L257.4 321.0 L258.4 321.1 L259.4 321.2 L260.3 321.3 L261.2 321.4 L262.0 321.5 L262.8 321.6 L263.5 321.7 L264.2 321.8 L264.7 321.8 L265.2 321.9 L265.9 322.1 L266.8 322.3 L267.6 322.5 L267.6 322.6 L266.8 322.7 L266.0 322.7 L265.2 322.8 L264.4 322.8 L263.6 322.9 L262.8 322.9 L262.0 323.0 L261.2 323.0 L260.4 323.0 L259.6 323.0 L258.8 323.0 L258.0 323.0 L257.2 323.0 L256.4 323.0 L255.6 323.0 L254.8 323.0 L254.0 323.0 L253.2 323.0 L252.4 323.0 L251.6 323.0 L250.8 323.0 L250.0 323.0 L249.2 323.0 L248.4 323.0 L247.6 323.0 L246.8 323.0 L246.0 323.0 L245.2 323.0 L244.4 323.0 L243.6 323.0 L242.8 323.0 L242.0 323.0 L241.2 323.0 L240.4 323.0 L239.6 323.0 L238.8 323.0 L238.0 323.0 L237.2 323.0 L236.4 323.0 L235.6 323.0 L234.8 323.0 L234.0 323.0 L233.2 323.0 L232.4 323.0 L231.6 323.0 L230.8 323.0 L230.0 323.0 L229.2 323.0 L228.4 323.0 L227.6 323.0 L226.8 323.0 L226.0 323.0 L225.2 323.0 L224.4 323.0 L223.6 323.0 L222.8 323.0 L222.0 323.0 L221.2 323.0 L220.4 323.0 L219.6 323.0 L218.8 323.0 L218.0 323.0 L217.2 323.0 L216.4 323.0 L215.6 323.0 L214.8 323.0 L214.0 323.0 L213.2 323.0 L212.4 323.0 L211.6 323.0 L210.8 323.0 L210.0 323.0 L209.2 323.0 L208.4 323.0 L207.6 323.0 L206.8 323.0 L206.0 323.0 L205.2 323.0 L204.4 323.0 L203.6 323.0 L202.8 323.0 L202.0 323.0 L201.2 323.0 L200.4 323.0 L199.6 323.0 L198.8 323.0 L198.0 323.0 L197.2 323.0 L196.4 323.0 L195.6 323.0 L194.8 323.0 L194.0 323.0 L193.2 323.0 L192.4 323.0 L191.6 323.0 L190.8 323.0 L190.0 323.0 L189.2 323.0 L188.4 323.0 L187.6 323.0 L186.8 323.0 L186.0 323.0 L185.2 323.0 L184.4 323.0 L183.6 323.0 L182.8 323.0 L182.0 323.0 L181.2 323.0 L180.4 323.0 L179.6 323.0 L178.8 323.0 L178.0 323.0 L177.2 323.0 L176.4 323.0 L175.6 323.0 L174.8 323.0 L174.0 323.0 L173.2 323.0 L172.4 323.0 L171.6 323.1 L170.8 323.1 L170.0 323.1 L169.2 323.1 L168.4 323.1 L167.6 323.1 L166.8 323.1 L166.0 323.1 L165.2 323.1 L164.4 323.1 L163.6 323.1 L162.8 323.1 L162.0 323.1 L161.2 323.1 L160.4 323.1 L159.6 323.2 L158.8 323.2 L158.0 323.2 L157.2 323.2 L156.4 323.2 L155.6 323.2 L154.8 323.2 L154.0 323.2 L153.2 323.2 L152.4 323.2 L151.6 323.2 L150.8 323.2 L150.0 323.2 L149.2 323.2 L148.4 323.2 L147.6 323.3 L146.8 323.3 L146.0 323.3 L145.2 323.3 L144.4 323.3 L143.6 323.4 L142.8 323.4 L142.0 323.4 L141.2 323.4 L140.4 323.4 L139.6 323.4 L138.8 323.5 L138.0 323.5 L137.2 323.5 L136.4 323.5 L135.6 323.5 L134.8 323.6 L134.0 323.6 L133.2 323.6 L132.4 323.6 L131.6 323.6 L130.8 323.7 L130.0 323.7 L129.2 323.7 L128.4 323.7 L127.6 323.7 L126.8 323.7 L126.0 323.8 L125.2 323.8 L124.4 323.8 L123.6 323.8 L122.8 323.8 L122.0 323.9 L121.2 323.9 L120.4 323.9 L119.6 323.9 L118.8 323.9 L118.0 324.0 L117.2 324.0 L116.4 324.0 L115.6 324.0 L114.8 324.0 L114.0 324.0 L113.2 324.1 L112.4 324.1 L111.6 324.1 L110.8 324.1 L110.0 324.1 L109.2 324.2 L108.4 324.2 L107.6 324.2 L106.8 324.2 L106.0 324.2 L105.2 324.3 L104.4 324.3 L103.6 324.3 L102.8 324.3 L102.0 324.3 L101.2 324.3 L100.4 324.4 L99.6 324.4 L98.8 324.4 L98.0 324.4 L97.2 324.4 L96.4 324.5 L95.6 324.5 L94.8 324.5 L94.0 324.5 L93.2 324.5 L92.4 324.5 L91.6 324.6 L90.8 324.6 L90.0 324.6 L89.2 324.6 L88.4 324.6 L87.6 324.7 L86.8 324.7 L86.0 324.7 L85.2 324.7 L84.4 324.7 L83.6 324.8 L82.8 324.8 L82.0 324.8 L81.2 324.8 L80.4 324.8 L79.6 324.8 L78.8 324.9 L78.0 324.9 L77.2 324.9 L76.4 324.9 L75.6 324.9 L74.8 325.0 L74.0 325.0 L73.2 325.0 L72.4 325.0 L71.6 325.0 L71.0 325.1" stroke="#1c1cff" stroke-dasharray="0.00 0.00 2.24 5.30 6.20 5.30 6.20 5.30 6.20 5.30 6.20 5.30 6.20 5.30 6.20 5.30 6.14 5.25 6.14 5.25 6.06 5.18 6.06 5.18 6.27 5.36 6.27 5.36 6.40 5.48 6.32 5.41 6.32 5.41 6.32 5.41 6.32 5.41 6.32 5.41 6.51 5.57 6.06 5.18 6.55 5.60 6.52 5.57 6.13 5.24 6.30 5.39 6.30 5.39 6.30 5.39 6.41 5.48 5.95 5.08 6.97 5.96 5.96 5.09 5.53 4.73 6.20 5.30 6.20 5.30 6.20 5.30 6.20 5.30 6.20 5.30 6.20 5.30 6.20 5.30 6.20 5.30 6.20 5.30 6.20 5.30 6.20 5.30 6.20 5.30 6.20 5.30 6.20 5.30 6.20 5.30 6.20 5.30 6.20 5.30 6.20 5.30 6.20 5.30 6.20 5.30 6.20 5.30 6.20 5.30 1.85 50.00"/>
<g clip-path="url(#cbot)"><path d="M52.7 15.0 L52.6 14.6 L52.7 15.1 L53.0 17.2 L53.1 17.7 L53.2 18.2 L53.3 18.8 L53.4 19.4 L53.5 20.1 L53.6 20.8 L53.7 21.6 L53.8 22.3 L53.9 23.1 L54.1 24.0 L54.2 24.8 L54.3 25.7 L54.5 26.6 L54.6 27.5 L54.7 28.4 L54.9 29.3 L55.0 30.2 L55.2 31.2 L55.3 32.1 L55.5 33.0 L55.6 33.9 L55.8 34.8 L55.9 35.7 L56.1 36.6 L56.2 37.4 L56.4 38.2 L56.5 39.0 L56.7 39.8 L56.8 40.5 L57.0 41.2 L57.2 42.1 L57.3 43.0 L57.5 43.9 L57.7 44.7 L57.9 45.5 L58.1 46.3 L58.3 47.0 L58.5 47.8 L58.7 48.5 L58.9 49.2 L59.1 49.9 L59.3 50.6 L59.5 51.3 L59.7 52.0 L59.9 52.7 L60.2 53.5 L60.4 54.2 L60.7 55.0 L61.0 55.7 L61.2 56.5 L61.6 57.4 L61.9 58.2 L62.1 58.8 L62.4 59.5 L62.6 60.2 L62.9 60.9 L63.2 61.6 L63.5 62.4 L63.8 63.1 L64.1 63.8 L64.4 64.6 L64.7 65.4 L65.0 66.1 L65.3 66.9 L65.7 67.6 L66.0 68.4 L66.3 69.2 L66.7 69.9 L67.0 70.7 L67.4 71.5 L67.7 72.2 L68.1 73.0 L68.5 73.7 L68.8 74.5 L69.2 75.2 L69.6 75.9 L70.0 76.6 L70.4 77.3 L70.8 78.0 L71.2 78.6 L71.6 79.3 L72.1 80.0 L72.5 80.7 L73.0 81.4 L73.5 82.0 L74.0 82.7 L74.5 83.3 L75.0 84.0 L75.5 84.6 L76.1 85.2 L76.6 85.9 L77.1 86.5 L77.7 87.1 L78.2 87.7 L78.8 88.3 L79.3 88.9 L79.8 89.5 L80.4 90.1 L80.9 90.7 L81.5 91.2 L82.0 91.8 L82.5 92.4 L83.1 93.0 L83.6 93.5 L84.1 94.1 L84.6 94.6 L85.1 95.2 L85.7 95.9 L86.3 96.5 L86.8 97.1 L87.4 97.8 L87.9 98.4 L88.5 99.0 L89.1 99.6 L89.6 100.2 L90.2 100.8 L90.7 101.4 L91.3 101.9 L91.8 102.5 L92.4 103.1 L92.9 103.7 L93.5 104.2 L94.0 104.8 L94.5 105.4 L95.1 105.9 L95.6 106.5 L96.2 107.1 L96.7 107.6 L97.3 108.2 L97.8 108.7 L98.4 109.3 L99.0 109.9 L99.6 110.5 L100.2 111.1 L100.8 111.7 L101.4 112.3 L102.0 112.9 L102.6 113.5 L103.2 114.1 L103.8 114.6 L104.4 115.2 L105.0 115.8 L105.6 116.3 L106.2 116.9 L106.7 117.4 L107.3 118.0 L107.9 118.5 L108.4 119.0 L109.0 119.6 L109.5 120.1 L110.0 120.6 L110.6 121.1 L111.3 121.8 L112.0 122.4 L112.7 123.0 L113.4 123.6 L114.0 124.2 L114.7 124.7 L115.3 125.3 L115.9 125.8 L116.5 126.3 L117.1 126.9 L117.7 127.3 L118.3 127.8 L118.8 128.3 L119.3 128.7 L119.8 129.2 L120.4 129.7 L121.2 130.4 L121.9 131.0 L122.5 131.5 L123.1 132.0 L123.6 132.5 L124.2 133.0 L124.7 133.4 L125.3 133.9 L126.0 134.4 L126.6 134.9 L127.2 135.4 L127.8 135.9 L128.5 136.4 L129.2 136.9 L129.8 137.3 L130.5 137.8 L131.1 138.3 L131.8 138.8 L132.4 139.2 L133.1 139.7 L133.8 140.2 L134.4 140.6 L135.1 141.1 L135.7 141.5 L136.4 142.0 L137.1 142.5 L137.7 142.9 L138.4 143.4 L139.0 143.9 L139.7 144.3 L140.3 144.8 L140.9 145.3 L141.6 145.8 L142.2 146.3 L142.9 146.8 L143.5 147.2 L144.2 147.7 L144.9 148.2 L145.5 148.6 L146.2 149.1 L146.9 149.5 L147.5 149.9 L148.2 150.3 L148.9 150.8 L149.6 151.2 L150.3 151.6 L151.0 152.0 L151.7 152.5 L152.4 152.9 L153.0 153.3 L153.6 153.6 L154.1 153.9 L154.7 154.2 L155.2 154.5 L155.8 154.9 L156.5 155.2 L157.2 155.7 L157.9 156.1 L158.8 156.7 L159.8 157.3 L160.5 157.9 L161.1 158.2 L161.6 158.6 L162.2 159.0 L162.8 159.4 L163.5 159.9 L164.1 160.3 L164.8 160.8 L165.5 161.3 L166.2 161.8 L167.0 162.3 L167.7 162.8 L168.4 163.3 L169.2 163.8 L169.9 164.4 L170.7 164.9 L171.4 165.4 L172.1 165.9 L172.8 166.4 L173.5 167.0 L174.2 167.5 L174.8 168.0 L175.5 168.4 L176.1 168.9 L176.6 169.4 L177.2 169.8 L177.7 170.2 L178.4 170.8 L179.2 171.5 L179.9 172.2 L180.4 172.8 L181.0 173.3 L181.5 173.9 L181.9 174.4 L182.3 175.0 L182.7 175.5 L183.2 176.1 L183.6 176.7 L184.0 177.3 L184.5 177.9 L185.1 178.6 L185.6 179.3 L186.1 179.8 L186.6 180.4 L187.0 181.0 L187.5 181.6 L188.1 182.2 L188.6 182.9 L189.1 183.5 L189.6 184.2 L190.2 184.8 L190.7 185.5 L191.2 186.1 L191.7 186.8 L192.3 187.5 L192.8 188.1 L193.3 188.8 L193.8 189.4 L194.3 190.1 L194.7 190.7 L195.2 191.3 L195.7 192.0 L196.2 192.7 L196.7 193.4 L197.2 194.0 L197.7 194.7 L198.2 195.4 L198.6 196.0 L199.1 196.7 L199.5 197.3 L200.0 198.0 L200.4 198.6 L200.8 199.3 L201.2 200.0 L201.6 200.6 L202.0 201.3 L202.3 202.0 L202.7 202.7 L203.0 203.4 L203.4 204.2 L203.7 205.0 L204.0 205.7 L204.3 206.5 L204.5 207.3 L204.8 208.1 L205.0 208.9 L205.3 209.7 L205.5 210.5 L205.7 211.3 L206.0 212.1 L206.2 212.8 L206.4 213.6 L206.6 214.3 L206.8 215.0 L207.1 215.9 L207.3 216.7 L207.5 217.5 L207.8 218.2 L208.0 219.0 L208.2 219.8 L208.4 220.5 L208.6 221.2 L208.7 222.0 L208.9 222.8 L209.1 223.6 L209.2 224.4 L209.3 225.2 L209.4 226.0 L209.5 226.8 L209.6 227.6 L209.7 228.4 L209.8 229.3 L209.8 230.1 L209.9 231.0 L210.0 231.8 L210.0 232.6 L210.1 233.5 L210.1 234.3 L210.1 235.1 L210.2 235.8 L210.2 236.5 L210.2 237.4 L210.3 238.3 L210.3 239.1 L210.4 239.8 L210.4 240.6 L210.4 241.3 L210.4 242.0 L210.4 242.8 L210.3 243.6 L210.3 244.5 L210.2 245.3 L210.0 246.1 L209.9 246.8 L209.8 247.6 L209.6 248.4 L209.4 249.2 L209.3 250.0 L209.1 250.8 L208.9 251.7 L208.7 252.5 L208.5 253.4 L208.3 254.2 L208.1 255.0 L207.9 255.8 L207.7 256.5 L207.6 257.3 L207.4 258.2 L207.2 259.0 L207.0 259.8 L206.8 260.7 L206.6 261.5 L206.4 262.3 L206.2 263.1 L206.0 263.8 L205.9 264.6 L205.7 265.3 L205.5 266.0 L205.3 266.7 L205.0 267.6 L204.8 268.5 L204.5 269.3 L204.3 270.2 L204.0 271.0 L203.7 271.7 L203.5 272.4 L203.3 273.1 L203.0 273.7 L202.7 274.5 L202.4 275.1 L202.2 275.5 L201.8 276.1 L201.2 277.1 L200.8 277.9 L200.5 278.4 L200.2 279.0 L199.8 279.6 L199.5 280.3 L199.1 281.1 L198.7 281.8 L198.3 282.6 L197.8 283.4 L197.4 284.2 L197.0 285.0 L196.5 285.8 L196.1 286.6 L195.7 287.3 L195.3 288.0 L194.9 288.7 L194.5 289.4 L194.1 290.1 L193.6 290.9 L193.1 291.6 L192.6 292.4 L192.1 293.1 L191.6 293.8 L191.1 294.4 L190.7 295.1 L190.2 295.7 L189.8 296.3 L189.4 296.9 L189.0 297.5 L188.6 298.1 L188.1 298.9 L187.7 299.7 L187.3 300.5 L186.9 301.3 L186.5 302.0 L186.2 302.7 L185.9 303.4 L185.6 304.1 L185.4 304.8 L185.3 305.6 L185.1 306.5 L185.1 307.3 L185.0 308.2 L185.1 309.0 L185.2 309.7 L185.3 310.5 L185.6 311.2 L185.9 311.9 L186.3 312.6 L186.7 313.2 L187.3 313.8 L187.9 314.4 L188.8 314.9 L189.4 315.4 L190.0 315.7 L190.7 316.0 L191.4 316.4 L192.1 316.7 L192.9 317.1 L193.7 317.4 L194.5 317.8 L195.3 318.1 L196.2 318.4 L197.0 318.6 L197.8 318.9 L198.6 319.1 L199.3 319.3 L200.1 319.5 L200.9 319.7 L201.7 319.9 L202.5 320.0 L203.3 320.2 L204.1 320.3 L205.0 320.4 L205.8 320.6 L206.6 320.7 L207.4 320.8 L208.2 321.0 L209.1 321.1 L210.0 321.2 L210.9 321.4 L211.8 321.5 L212.8 321.6 L213.7 321.7 L214.6 321.8 L215.4 321.9 L216.2 322.0 L216.9 322.1 L217.4 322.1 L217.9 322.2 L218.7 322.4 L219.6 322.7 L219.6 322.8 L218.8 322.8 L218.0 322.9 L217.2 322.9 L216.4 322.9 L215.6 322.9 L214.8 323.0 L214.0 323.0 L213.2 323.0 L212.4 323.0 L211.6 323.0 L210.8 323.0 L210.0 323.0 L209.2 323.0 L208.4 323.0 L207.6 323.0 L206.8 323.0 L206.0 323.0 L205.2 323.0 L204.4 323.0 L203.6 323.0 L202.8 323.0 L202.0 323.0 L201.2 323.0 L200.4 323.0 L199.6 323.0 L198.8 323.0 L198.0 323.0 L197.2 323.0 L196.4 323.0 L195.6 323.0 L194.8 323.0 L194.0 323.0 L193.2 323.0 L192.4 323.0 L191.6 323.0 L190.8 323.0 L190.0 323.0 L189.2 323.0 L188.4 323.0 L187.6 323.0 L186.8 323.0 L186.0 323.0 L185.2 323.0 L184.4 323.0 L183.6 323.0 L182.8 323.0 L182.0 323.0 L181.2 323.0 L180.4 323.0 L179.6 323.0 L178.8 323.0 L178.0 323.0 L177.2 323.0 L176.4 323.0 L175.6 323.0 L174.8 323.0 L174.0 323.0 L173.2 323.0 L172.4 323.0 L171.6 323.1 L170.8 323.1 L170.0 323.1 L169.2 323.1 L168.4 323.1 L167.6 323.1 L166.8 323.1 L166.0 323.1 L165.2 323.1 L164.4 323.1 L163.6 323.1 L162.8 323.1 L162.0 323.1 L161.2 323.1 L160.4 323.1 L159.6 323.2 L158.8 323.2 L158.0 323.2 L157.2 323.2 L156.4 323.2 L155.6 323.2 L154.8 323.2 L154.0 323.2 L153.2 323.2 L152.4 323.2 L151.6 323.2 L150.8 323.2 L150.0 323.2 L149.2 323.2 L148.4 323.2 L147.6 323.3 L146.8 323.3 L146.0 323.3 L145.2 323.3 L144.4 323.3 L143.6 323.4 L142.8 323.4 L142.0 323.4 L141.2 323.4 L140.4 323.4 L139.6 323.4 L138.8 323.5 L138.0 323.5 L137.2 323.5 L136.4 323.5 L135.6 323.5 L134.8 323.6 L134.0 323.6 L133.2 323.6 L132.4 323.6 L131.6 323.6 L130.8 323.7 L130.0 323.7 L129.2 323.7 L128.4 323.7 L127.6 323.7 L126.8 323.7 L126.0 323.8 L125.2 323.8 L124.4 323.8 L123.6 323.8 L122.8 323.8 L122.0 323.9 L121.2 323.9 L120.4 323.9 L119.6 323.9 L118.8 323.9 L118.0 324.0 L117.2 324.0 L116.4 324.0 L115.6 324.0 L114.8 324.0 L114.0 324.0 L113.2 324.1 L112.4 324.1 L111.6 324.1 L110.8 324.1 L110.0 324.1 L109.2 324.2 L108.4 324.2 L107.6 324.2 L106.8 324.2 L106.0 324.2 L105.2 324.3 L104.4 324.3 L103.6 324.3 L102.8 324.3 L102.0 324.3 L101.2 324.3 L100.4 324.4 L99.6 324.4 L98.8 324.4 L98.0 324.4 L97.2 324.4 L96.4 324.5 L95.6 324.5 L94.8 324.5 L94.0 324.5 L93.2 324.5 L92.4 324.5 L91.6 324.6 L90.8 324.6 L90.0 324.6 L89.2 324.6 L88.4 324.6 L87.6 324.7 L86.8 324.7 L86.0 324.7 L85.2 324.7 L84.4 324.7 L83.6 324.8 L82.8 324.8 L82.0 324.8 L81.2 324.8 L80.4 324.8 L79.6 324.8 L78.8 324.9 L78.0 324.9 L77.2 324.9 L76.4 324.9 L75.6 324.9 L74.8 325.0 L74.0 325.0 L73.2 325.0 L72.4 325.0 L71.6 325.0 L71.0 325.1" stroke="#00d200" stroke-dasharray="0.00 0.76 8.40 2.50 2.40 2.50 8.40 2.50 2.40 2.50 8.40 2.50 2.40 2.50 8.40 2.50 2.40 2.50 8.40 2.50 2.40 2.50 8.09 2.41 2.31 2.41 8.67 2.58 2.48 2.58 8.12 2.42 2.32 2.42 7.74 2.30 2.21 2.30 8.59 2.56 2.46 2.56 8.16 2.43 2.33 2.43 8.16 2.43 2.33 2.43 8.61 2.56 2.46 2.56 8.56 2.55 2.45 2.55 8.96 2.67 2.56 2.67 8.01 2.38 2.29 2.38 8.01 2.38 2.29 2.38 8.01 2.38 2.29 2.38 7.96 2.37 2.27 2.37 8.63 2.57 2.46 2.57 8.10 2.41 2.31 2.41 7.94 2.36 2.27 2.36 8.65 2.58 2.47 2.58 8.65 2.58 2.47 2.58 8.40 2.50 2.40 2.50 8.40 2.50 2.40 2.50 8.40 2.50 2.40 2.50 8.40 2.50 2.40 2.50 8.40 2.50 2.40 2.50 8.40 2.50 2.40 2.50 8.40 2.50 2.40 2.50 8.40 2.50 2.40 2.50 8.40 2.50 2.40 2.50 8.40 2.50 2.40 2.50 8.40 2.50 2.40 2.50 6.04 50.00"/></g>
<path d="M52.0 15.0 L51.9 14.4 L52.0 14.9 L52.2 17.2 L52.3 17.7 L52.3 18.2 L52.4 18.8 L52.5 19.4 L52.5 20.0 L52.6 20.7 L52.7 21.4 L52.8 22.2 L52.8 22.9 L52.9 23.7 L53.0 24.5 L53.1 25.4 L53.2 26.3 L53.3 27.1 L53.4 28.0 L53.5 28.9 L53.6 29.8 L53.7 30.8 L53.8 31.7 L53.9 32.6 L54.0 33.5 L54.1 34.5 L54.2 35.4 L54.3 36.3 L54.4 37.2 L54.6 38.1 L54.7 39.0 L54.8 39.8 L54.9 40.7 L55.0 41.5 L55.2 42.3 L55.3 43.0 L55.4 43.8 L55.5 44.5 L55.7 45.3 L55.9 46.2 L56.1 47.1 L56.2 48.0 L56.4 48.9 L56.6 49.7 L56.8 50.6 L57.0 51.4 L57.2 52.2 L57.4 53.0 L57.6 53.8 L57.8 54.6 L58.0 55.3 L58.2 56.1 L58.5 56.8 L58.7 57.5 L58.9 58.2 L59.2 58.9 L59.4 59.6 L59.7 60.3 L60.0 61.0 L60.2 61.7 L60.5 62.4 L60.8 63.0 L61.1 63.7 L61.5 64.5 L61.8 65.2 L62.2 66.0 L62.6 66.7 L63.0 67.4 L63.4 68.0 L63.8 68.7 L64.2 69.3 L64.6 70.0 L65.1 70.6 L65.5 71.2 L66.0 71.9 L66.4 72.5 L66.9 73.1 L67.4 73.7 L67.9 74.3 L68.4 75.0 L69.0 75.6 L69.5 76.3 L70.1 76.9 L70.6 77.5 L71.1 78.1 L71.6 78.7 L72.1 79.2 L72.7 79.8 L73.2 80.4 L73.8 80.9 L74.4 81.5 L75.0 82.1 L75.6 82.7 L76.2 83.3 L76.8 83.8 L77.4 84.4 L78.0 85.0 L78.6 85.6 L79.2 86.1 L79.8 86.7 L80.4 87.2 L81.1 87.8 L81.7 88.3 L82.3 88.9 L82.8 89.4 L83.4 89.9 L84.0 90.4 L84.6 90.9 L85.1 91.4 L85.8 92.0 L86.4 92.6 L87.1 93.1 L87.7 93.7 L88.4 94.2 L89.0 94.8 L89.7 95.3 L90.3 95.8 L90.9 96.3 L91.5 96.8 L92.1 97.3 L92.8 97.7 L93.4 98.2 L94.0 98.7 L94.6 99.2 L95.2 99.6 L95.8 100.1 L96.4 100.6 L97.1 101.0 L97.7 101.5 L98.4 102.0 L99.0 102.5 L99.7 102.9 L100.4 103.4 L101.0 103.9 L101.7 104.3 L102.4 104.8 L103.0 105.2 L103.7 105.7 L104.4 106.1 L105.0 106.6 L105.7 107.0 L106.3 107.5 L107.0 107.9 L107.7 108.4 L108.3 108.9 L109.0 109.3 L109.6 109.8 L110.3 110.3 L110.9 110.8 L111.6 111.3 L112.2 111.8 L112.8 112.3 L113.4 112.8 L114.0 113.3 L114.7 113.8 L115.3 114.4 L115.9 114.9 L116.5 115.4 L117.1 115.9 L117.8 116.5 L118.4 117.0 L119.0 117.5 L119.6 118.0 L120.2 118.5 L120.9 119.0 L121.5 119.5 L122.1 120.0 L122.8 120.4 L123.4 120.9 L124.1 121.4 L124.8 121.8 L125.5 122.3 L126.2 122.7 L126.8 123.1 L127.5 123.6 L128.2 124.0 L128.9 124.4 L129.6 124.8 L130.3 125.3 L131.0 125.7 L131.7 126.1 L132.4 126.5 L133.0 126.9 L133.7 127.3 L134.4 127.8 L135.1 128.2 L135.7 128.6 L136.4 129.0 L137.0 129.4 L137.6 129.8 L138.2 130.2 L138.7 130.5 L139.3 130.9 L139.9 131.2 L140.4 131.6 L141.0 132.0 L141.6 132.4 L142.2 132.8 L142.9 133.2 L143.6 133.6 L144.4 134.1 L145.2 134.6 L146.0 135.2 L147.0 135.8 L147.8 136.4 L148.3 136.7 L148.9 137.1 L149.5 137.4 L150.1 137.8 L150.7 138.2 L151.3 138.6 L152.0 139.1 L152.6 139.5 L153.3 139.9 L154.0 140.4 L154.7 140.8 L155.5 141.3 L156.2 141.8 L156.9 142.3 L157.7 142.7 L158.4 143.2 L159.2 143.7 L159.9 144.2 L160.7 144.7 L161.5 145.2 L162.2 145.7 L163.0 146.2 L163.7 146.7 L164.5 147.1 L165.2 147.6 L165.9 148.1 L166.6 148.6 L167.3 149.0 L168.0 149.5 L168.7 149.9 L169.3 150.4 L170.0 150.8 L170.6 151.2 L171.2 151.6 L171.7 152.0 L172.3 152.3 L172.8 152.7 L173.7 153.4 L174.6 154.0 L175.5 154.6 L176.3 155.2 L177.1 155.7 L177.8 156.3 L178.6 156.8 L179.2 157.3 L179.9 157.8 L180.5 158.3 L181.1 158.7 L181.7 159.2 L182.2 159.6 L182.7 160.0 L183.3 160.5 L183.8 160.9 L184.2 161.3 L184.7 161.6 L185.2 162.0 L185.9 162.6 L186.7 163.3 L187.4 163.9 L188.0 164.5 L188.6 165.0 L189.0 165.5 L189.5 166.0 L189.9 166.5 L190.4 167.1 L190.9 167.7 L191.4 168.3 L191.9 168.9 L192.4 169.6 L192.8 170.2 L193.2 170.9 L193.7 171.6 L194.1 172.4 L194.5 173.1 L194.8 173.7 L195.1 174.4 L195.4 175.0 L195.7 175.7 L196.1 176.4 L196.4 177.2 L196.7 178.0 L196.9 178.9 L197.2 179.8 L197.4 180.5 L197.6 181.2 L197.8 182.0 L198.0 182.8 L198.2 183.6 L198.3 184.5 L198.5 185.4 L198.7 186.3 L198.9 187.1 L199.0 188.0 L199.2 188.8 L199.3 189.6 L199.5 190.4 L199.6 191.1 L199.8 191.7 L200.1 192.7 L200.3 193.6 L200.5 194.4 L200.8 195.1 L201.0 195.7 L201.2 196.4 L201.5 197.1 L201.7 197.9 L201.9 198.6 L202.2 199.3 L202.4 200.0 L202.7 200.8 L203.0 201.5 L203.2 202.3 L203.4 203.1 L203.7 203.9 L203.8 204.8 L204.0 205.6 L204.0 206.3 L204.1 207.0 L204.1 207.8 L204.2 208.6 L204.2 209.4 L204.2 210.2 L204.2 211.1 L204.2 211.9 L204.2 212.7 L204.3 213.6 L204.3 214.4 L204.3 215.2 L204.3 216.0 L204.4 216.8 L204.4 217.7 L204.5 218.5 L204.5 219.4 L204.5 220.2 L204.6 221.0 L204.6 221.8 L204.7 222.6 L204.7 223.4 L204.7 224.1 L204.7 224.8 L204.7 225.7 L204.7 226.6 L204.7 227.4 L204.6 228.1 L204.6 228.8 L204.5 229.5 L204.5 230.3 L204.4 231.2 L204.3 232.0 L204.2 232.8 L204.1 233.5 L204.0 234.3 L203.8 235.1 L203.7 236.0 L203.6 236.8 L203.5 237.7 L203.3 238.5 L203.2 239.3 L203.0 240.2 L202.9 240.9 L202.7 241.7 L202.5 242.5 L202.3 243.3 L202.2 244.1 L202.0 244.9 L201.8 245.6 L201.6 246.3 L201.3 247.1 L201.1 247.8 L200.8 248.6 L200.5 249.4 L200.1 250.2 L199.8 250.8 L199.4 251.5 L199.0 252.3 L198.6 253.0 L198.2 253.8 L197.7 254.5 L197.3 255.3 L196.8 256.0 L196.3 256.7 L195.9 257.4 L195.5 258.0 L195.1 258.7 L194.7 259.2 L194.2 259.9 L193.6 260.7 L193.1 261.2 L192.6 261.7 L192.1 262.2 L191.7 262.7 L191.2 263.3 L190.7 264.2 L190.4 264.8 L190.1 265.5 L189.8 266.2 L189.5 267.0 L189.2 267.9 L188.9 268.7 L188.6 269.6 L188.2 270.5 L188.0 271.3 L187.7 272.1 L187.4 272.8 L187.1 273.5 L186.9 274.1 L186.4 275.0 L186.0 275.6 L185.6 275.9 L185.2 276.4 L184.5 277.2 L184.1 277.9 L183.7 278.4 L183.4 278.9 L183.0 279.5 L182.6 280.2 L182.1 280.9 L181.7 281.6 L181.2 282.3 L180.7 283.0 L180.3 283.8 L179.8 284.5 L179.3 285.3 L178.7 286.0 L178.2 286.8 L177.7 287.5 L177.3 288.1 L176.8 288.7 L176.3 289.3 L175.8 290.0 L175.3 290.6 L174.7 291.3 L174.2 291.9 L173.6 292.6 L173.1 293.2 L172.6 293.9 L172.0 294.5 L171.5 295.2 L171.0 295.8 L170.5 296.5 L170.0 297.1 L169.6 297.7 L169.2 298.3 L168.8 299.0 L168.3 299.8 L167.9 300.6 L167.4 301.4 L167.0 302.1 L166.6 302.9 L166.3 303.7 L165.9 304.5 L165.6 305.2 L165.3 305.9 L165.1 306.6 L164.8 307.3 L164.6 308.0 L164.5 308.6 L164.3 309.4 L164.1 310.4 L164.1 311.3 L164.1 312.1 L164.2 312.9 L164.4 313.6 L164.7 314.3 L165.0 314.9 L165.4 315.6 L165.9 316.1 L166.5 316.7 L167.1 317.2 L167.8 317.6 L168.6 318.1 L169.4 318.5 L170.2 318.9 L170.9 319.2 L171.7 319.5 L172.6 319.8 L173.5 320.1 L174.4 320.4 L175.3 320.7 L176.1 320.9 L176.8 321.1 L177.4 321.3 L177.9 321.5 L178.7 321.8 L179.4 322.1 L179.8 322.4 L179.0 322.5 L178.2 322.7 L177.4 322.8 L176.6 322.9 L176.0 323.0" stroke="#ff00ff" stroke-dasharray="0.00 3.41 12.06 4.37 10.75 3.89 13.32 4.82 14.55 5.27 11.31 4.10 11.28 4.09 11.86 4.29 10.63 3.85 11.84 4.29 11.59 4.20 11.14 4.03 11.14 4.03 12.02 4.35 11.36 4.11 11.11 4.02 11.64 4.21 11.37 4.12 11.64 4.22 11.29 4.09 11.33 4.10 10.67 3.86 11.98 4.34 12.90 4.67 10.34 3.74 11.60 4.20 5.98 50.00"/>
<path d="M176.00 323.00 L148.00 323.25 L71.00 325.05" stroke="#ff00ff" stroke-dasharray="13.8 1.8" stroke-dashoffset="0.8"/>
</g>
<g stroke="#000" fill="none">
<line x1="66.74" y1="16.90" x2="66.74" y2="21.90" stroke-width="1.0"/>
<line x1="66.74" y1="324.75" x2="66.74" y2="319.75" stroke-width="1.0"/>
<line x1="86.13" y1="16.90" x2="86.13" y2="21.90" stroke-width="1.0"/>
<line x1="86.13" y1="324.75" x2="86.13" y2="319.75" stroke-width="1.0"/>
<line x1="105.52" y1="16.90" x2="105.52" y2="21.90" stroke-width="1.0"/>
<line x1="105.52" y1="324.75" x2="105.52" y2="319.75" stroke-width="1.0"/>
<line x1="124.91" y1="16.90" x2="124.91" y2="21.90" stroke-width="1.0"/>
<line x1="124.91" y1="324.75" x2="124.91" y2="319.75" stroke-width="1.0"/>
<line x1="144.30" y1="16.90" x2="144.30" y2="24.90" stroke-width="1.8"/>
<line x1="144.30" y1="324.75" x2="144.30" y2="316.75" stroke-width="1.8"/>
<line x1="163.69" y1="16.90" x2="163.69" y2="21.90" stroke-width="1.0"/>
<line x1="163.69" y1="324.75" x2="163.69" y2="319.75" stroke-width="1.0"/>
<line x1="183.08" y1="16.90" x2="183.08" y2="21.90" stroke-width="1.0"/>
<line x1="183.08" y1="324.75" x2="183.08" y2="319.75" stroke-width="1.0"/>
<line x1="202.47" y1="16.90" x2="202.47" y2="21.90" stroke-width="1.0"/>
<line x1="202.47" y1="324.75" x2="202.47" y2="319.75" stroke-width="1.0"/>
<line x1="221.86" y1="16.90" x2="221.86" y2="21.90" stroke-width="1.0"/>
<line x1="221.86" y1="324.75" x2="221.86" y2="319.75" stroke-width="1.0"/>
<line x1="241.25" y1="16.90" x2="241.25" y2="24.90" stroke-width="1.8"/>
<line x1="241.25" y1="324.75" x2="241.25" y2="316.75" stroke-width="1.8"/>
<line x1="260.64" y1="16.90" x2="260.64" y2="21.90" stroke-width="1.0"/>
<line x1="260.64" y1="324.75" x2="260.64" y2="319.75" stroke-width="1.0"/>
<line x1="280.03" y1="16.90" x2="280.03" y2="21.90" stroke-width="1.0"/>
<line x1="280.03" y1="324.75" x2="280.03" y2="319.75" stroke-width="1.0"/>
<line x1="299.42" y1="16.90" x2="299.42" y2="21.90" stroke-width="1.0"/>
<line x1="299.42" y1="324.75" x2="299.42" y2="319.75" stroke-width="1.0"/>
<line x1="318.81" y1="16.90" x2="318.81" y2="21.90" stroke-width="1.0"/>
<line x1="318.81" y1="324.75" x2="318.81" y2="319.75" stroke-width="1.0"/>
<line x1="47.35" y1="299.10" x2="52.35" y2="299.10" stroke-width="1.0"/>
<line x1="338.20" y1="299.10" x2="333.20" y2="299.10" stroke-width="1.0"/>
<line x1="47.35" y1="273.44" x2="52.35" y2="273.44" stroke-width="1.0"/>
<line x1="338.20" y1="273.44" x2="333.20" y2="273.44" stroke-width="1.0"/>
<line x1="47.35" y1="247.79" x2="55.35" y2="247.79" stroke-width="1.8"/>
<line x1="338.20" y1="247.79" x2="330.20" y2="247.79" stroke-width="1.8"/>
<line x1="47.35" y1="222.13" x2="52.35" y2="222.13" stroke-width="1.0"/>
<line x1="338.20" y1="222.13" x2="333.20" y2="222.13" stroke-width="1.0"/>
<line x1="47.35" y1="196.48" x2="52.35" y2="196.48" stroke-width="1.0"/>
<line x1="338.20" y1="196.48" x2="333.20" y2="196.48" stroke-width="1.0"/>
<line x1="47.35" y1="170.82" x2="55.35" y2="170.82" stroke-width="1.8"/>
<line x1="338.20" y1="170.82" x2="330.20" y2="170.82" stroke-width="1.8"/>
<line x1="47.35" y1="145.17" x2="52.35" y2="145.17" stroke-width="1.0"/>
<line x1="338.20" y1="145.17" x2="333.20" y2="145.17" stroke-width="1.0"/>
<line x1="47.35" y1="119.52" x2="52.35" y2="119.52" stroke-width="1.0"/>
<line x1="338.20" y1="119.52" x2="333.20" y2="119.52" stroke-width="1.0"/>
<line x1="47.35" y1="93.86" x2="55.35" y2="93.86" stroke-width="1.8"/>
<line x1="338.20" y1="93.86" x2="330.20" y2="93.86" stroke-width="1.8"/>
<line x1="47.35" y1="68.21" x2="52.35" y2="68.21" stroke-width="1.0"/>
<line x1="338.20" y1="68.21" x2="333.20" y2="68.21" stroke-width="1.0"/>
<line x1="47.35" y1="42.55" x2="52.35" y2="42.55" stroke-width="1.0"/>
<line x1="338.20" y1="42.55" x2="333.20" y2="42.55" stroke-width="1.0"/>
</g>
<text transform="translate(43.1,22.40) scale(0.94,1)" font-size="15.2" letter-spacing="0.68" stroke="#000" stroke-width="0.3" text-anchor="end">1.2</text>
<text transform="translate(43.1,99.36) scale(0.94,1)" font-size="15.2" letter-spacing="0.68" stroke="#000" stroke-width="0.3" text-anchor="end">0.9</text>
<text transform="translate(43.1,176.32) scale(0.94,1)" font-size="15.2" letter-spacing="0.68" stroke="#000" stroke-width="0.3" text-anchor="end">0.6</text>
<text transform="translate(43.1,253.29) scale(0.94,1)" font-size="15.2" letter-spacing="0.68" stroke="#000" stroke-width="0.3" text-anchor="end">0.3</text>
<text transform="translate(43.1,330.25) scale(0.94,1)" font-size="15.2" letter-spacing="0.68" stroke="#000" stroke-width="0.3" text-anchor="end">0</text>
<text transform="translate(47.65,339.0) scale(0.94,1)" font-size="15.2" letter-spacing="0.68" stroke="#000" stroke-width="0.3" text-anchor="middle">0</text>
<text transform="translate(144.60,339.0) scale(0.94,1)" font-size="15.2" letter-spacing="0.68" stroke="#000" stroke-width="0.3" text-anchor="middle">0.05</text>
<text transform="translate(241.55,339.0) scale(0.94,1)" font-size="15.2" letter-spacing="0.68" stroke="#000" stroke-width="0.3" text-anchor="middle">0.1</text>
<text transform="translate(338.50,339.0) scale(0.94,1)" font-size="15.2" letter-spacing="0.68" stroke="#000" stroke-width="0.3" text-anchor="middle">0.15</text>
<rect x="21.43" y="19.90" width="3.35" height="3.5" fill="#fff"/>
<rect x="26.75" y="19.90" width="2.9" height="3.5" fill="#fff"/>
<rect x="243.94" y="336.50" width="3.35" height="3.5" fill="#fff"/>
<rect x="249.26" y="336.50" width="2.9" height="3.5" fill="#fff"/>
<rect x="336.60" y="336.50" width="3.35" height="3.5" fill="#fff"/>
<rect x="341.92" y="336.50" width="2.9" height="3.5" fill="#fff"/>
<text transform="translate(189.3,357.3) scale(1.1,0.88)" font-size="20" style="font-family:'Liberation Serif',serif;font-style:italic">u</text>
<path d="M202.7 342.3 L204.6 343.2 L200.4 349.6 L199.7 349.2 Z" fill="#000"/>
<text transform="translate(198.6,361.8) scale(1.18,1.04)" font-size="13.3" style="font-family:'Liberation Serif',serif">rms</text>
<line x1="223.7" y1="360.5" x2="230.2" y2="343.0" stroke="#000" stroke-width="1.15"/>
<text transform="translate(229.8,357.3) scale(0.97,0.91)" font-size="20" style="font-family:'Liberation Serif',serif;font-style:italic">U</text>
<text transform="translate(243.9,360.3) scale(1.12,1)" font-size="15" style="font-family:'Liberation Serif',serif;font-style:italic">e</text>
</svg></body></html>
